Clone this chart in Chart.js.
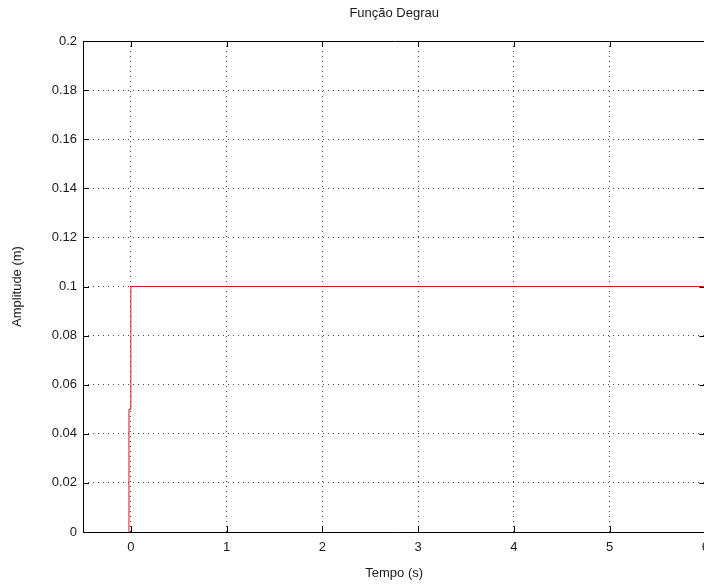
<!DOCTYPE html>
<html><head><meta charset="utf-8">
<script src="https://cdn.jsdelivr.net/npm/chart.js@4"></script>
<style>
html,body{margin:0;padding:0;overflow:hidden;background:#fff;width:704px;height:584px}
#wrap{width:717px;height:584px;position:relative}
canvas{display:block}
</style></head>
<body><div id="wrap"><canvas id="c" width="717" height="584"></canvas></div>
<script>
const stepTimes  = [-0.02, -0.02, 0, 0, 6];
const stepValues = [0, 0.05, 0.05, 0.1, 0.1];
const xTicks = [0, 1, 2, 3, 4, 5, 6];
const yTicks = [0, 0.02, 0.04, 0.06, 0.08, 0.1, 0.12, 0.14, 0.16, 0.18, 0.2];
const chartTitle = 'Função Degrau';
const xLabel = 'Tempo (s)';
const yLabel = 'Amplitude (m)';

const FONT = '"Liberation Sans", Arial, sans-serif';
const TXT = '#1a1a1a';

const boxPlugin = {
  id: 'box',
  afterDatasetsDraw(chart) {
    const {ctx, chartArea: a, scales} = chart;
    const L = 6;
    ctx.save();
    ctx.strokeStyle = '#000';
    ctx.lineWidth = 1;
    ctx.beginPath();
    ctx.rect(Math.round(a.left) + 0.5, Math.round(a.top) + 0.5,
             Math.round(a.right - a.left), Math.round(a.bottom - a.top));
    xTicks.forEach(v => {
      const x = Math.round(scales.x.getPixelForValue(v)) + 0.5;
      ctx.moveTo(x, a.bottom); ctx.lineTo(x, a.bottom - L);
      ctx.moveTo(x, a.top); ctx.lineTo(x, a.top + L);
    });
    yTicks.forEach(v => {
      const y = Math.round(scales.y.getPixelForValue(v)) + 0.5;
      ctx.moveTo(a.left, y); ctx.lineTo(a.left + L, y);
      ctx.moveTo(a.right, y); ctx.lineTo(a.right - L, y);
    });
    ctx.stroke();
    ctx.restore();
  }
};

new Chart(document.getElementById('c'), {
  type: 'scatter',
  data: {
    datasets: [{
      data: stepTimes.map((t, i) => ({x: t, y: stepValues[i]})),
      showLine: true,
      borderColor: '#d01822',
      borderWidth: 1,
      pointRadius: 0,
      tension: 0
    }]
  },
  options: {
    responsive: false,
    animation: false,
    devicePixelRatio: 1,
    layout: {padding: {left: 0, right: 5, top: 0, bottom: 0}},
    plugins: {
      legend: {display: false},
      tooltip: {enabled: false},
      title: {
        display: true, text: chartTitle, fullSize: false,
        color: TXT, font: {family: FONT, size: 13, weight: 'normal'},
        padding: {top: 6, bottom: 19.4}
      }
    },
    scales: {
      x: {
        type: 'linear', min: -0.5, max: 6,
        afterBuildTicks: s => { s.ticks = xTicks.map(v => ({value: v})); },
        afterFit: s => { s.height = 52; },
        ticks: {color: TXT, font: {family: FONT, size: 13}, padding: 8, maxRotation: 0,
                callback: v => String(v)},
        grid: {color: '#444', lineWidth: 1, drawTicks: false},
        border: {display: false, dash: [1, 4]},
        title: {display: true, text: xLabel, color: TXT,
                font: {family: FONT, size: 13}, padding: {top: 0, bottom: 3}}
      },
      y: {
        type: 'linear', min: 0, max: 0.2,
        afterBuildTicks: s => { s.ticks = yTicks.map(v => ({value: v})); },
        afterFit: s => { s.width = 83; },
        ticks: {color: TXT, font: {family: FONT, size: 13}, padding: 6,
                callback: v => String(+v.toFixed(2))},
        grid: {color: '#444', lineWidth: 1, drawTicks: false},
        border: {display: false, dash: [1, 4]},
        title: {display: true, text: yLabel, color: TXT,
                font: {family: FONT, size: 13}, padding: {top: 10, bottom: 0}}
      }
    }
  },
  plugins: [boxPlugin]
});
</script>
</body></html>
